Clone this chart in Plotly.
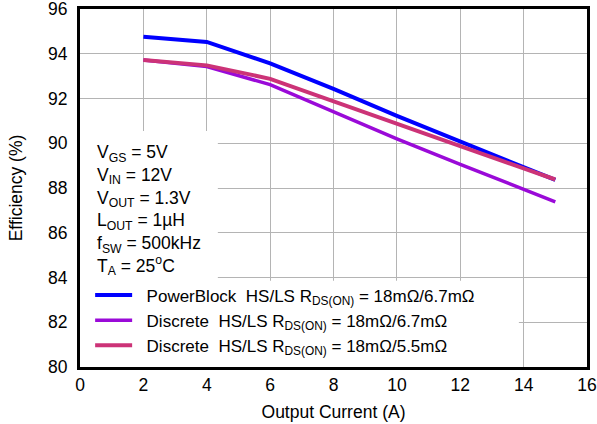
import plotly.graph_objects as go

current = [2, 4, 6, 8, 10, 12, 14, 15]
powerblock = [94.76, 94.53, 93.57, 92.43, 91.22, 90.07, 88.93, 88.36]
discrete_67 = [93.72, 93.43, 92.62, 91.42, 90.2, 89.06, 87.92, 87.38]
discrete_55 = [93.72, 93.48, 92.88, 91.87, 90.84, 89.87, 88.88, 88.38]

NB = "\u00a0\u00a0"
names = [
    NB + "PowerBlock  HS/LS R<sub>DS(ON)</sub> = 18mΩ/6.7mΩ",
    NB + "Discrete  HS/LS R<sub>DS(ON)</sub> = 18mΩ/6.7mΩ",
    NB + "Discrete  HS/LS R<sub>DS(ON)</sub> = 18mΩ/5.5mΩ",
]
colors = ["#0000FF", "#9A0AD8", "#CC3377"]
series = [powerblock, discrete_67, discrete_55]
widths = [4, 3.5, 4]

cond_text = ("V<sub>GS</sub> = 5V<br>V<sub>IN</sub> = 12V<br>V<sub>OUT</sub> = 1.3V<br>"
             "L<sub>OUT</sub> = 1µH<br>f<sub>SW</sub> = 500kHz<br>T<sub>A</sub> = 25<sup>o</sup>C")

fig = go.Figure()
for y, n, c, w in zip(series, names, colors, widths):
    fig.add_trace(go.Scatter(x=current, y=y, mode="lines", name=n,
                             line=dict(color=c, width=w)))

FS = 17.5
font = dict(family="Liberation Sans, Arial, sans-serif", size=FS, color="black")

fig.update_layout(
    width=597, height=424,
    margin=dict(l=80, r=10, t=9, b=57),
    paper_bgcolor="white", plot_bgcolor="white",
    font=font,
    showlegend=True,
    legend=dict(x=0.02, y=0.25, xanchor="left", yanchor="top",
                bgcolor="rgba(0,0,0,0)", font=dict(size=17),
                tracegroupgap=0, itemwidth=37),
    xaxis=dict(range=[0, 16], dtick=2, showgrid=True, gridcolor="#b4b4b4", gridwidth=1,
               showline=True, linecolor="black", linewidth=3, mirror=True,
               ticks="", zeroline=False, automargin=False, ticklabeloverflow="allow",
               title=dict(text="Output Current (A)", font=dict(size=FS), standoff=12)),
    yaxis=dict(range=[80, 96], dtick=2, showgrid=True, gridcolor="#b4b4b4", gridwidth=1,
               showline=True, linecolor="black", linewidth=3, mirror=True,
               ticks="", zeroline=False, automargin=False, ticklabelstandoff=6,
               ticklabeloverflow="allow",
               title=dict(text="Efficiency (%)", font=dict(size=FS), standoff=21)),
    shapes=[
        dict(type="rect", xref="x", yref="y", x0=0, x1=13.85, y0=80, y1=83.85,
             fillcolor="white", line=dict(width=0), layer="between"),
        dict(type="rect", xref="x", yref="y", x0=0, x1=4.35, y0=83.8, y1=90.55,
             fillcolor="white", line=dict(width=0), layer="between"),
    ],
    annotations=[
        dict(x=0.03, y=90.15, xref="paper", yref="y", xanchor="left", yanchor="top",
             text=cond_text, showarrow=False, align="left", font=dict(size=17.5)),
    ],
)

fig.write_html("out.html", config={"displayModeBar": False},
               post_script="document.body.style.margin='0';")
